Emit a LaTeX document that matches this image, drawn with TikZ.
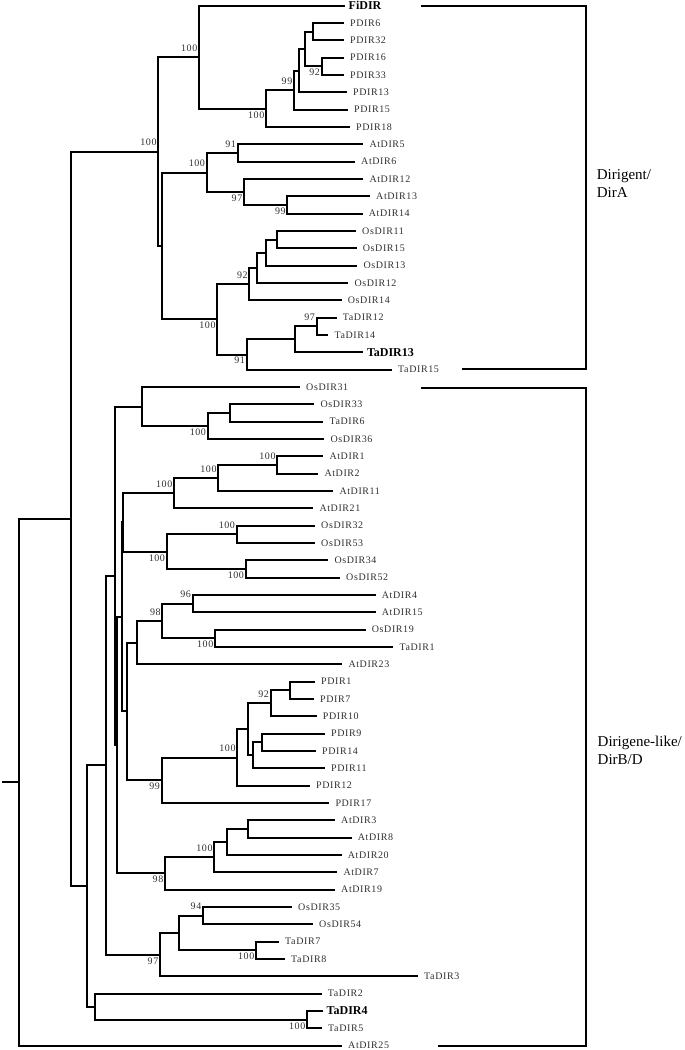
\documentclass[tikz,border=0pt]{standalone}
\usepackage{fontspec}
\setmainfont{Liberation Serif}
\newfontfamily\leaffont[LetterSpace=6]{Liberation Serif}
\usetikzlibrary{calc}
\definecolor{labelgray}{HTML}{303030}
% one fork of the tree: name, x of the fork, upper child, lower child
\newcommand\clade[4]{%
  \coordinate (#1-x) at (#2,0);
  \coordinate (#1-mid) at ($(#3.center)!.5!(#4.center)$);
  \coordinate (#1) at (#1-x |- #1-mid);
  \draw[branchline] (#1) |- (#3) (#1) |- (#4);}
\begin{document}
\begin{tikzpicture}[x=1pt,y=-1pt,
 branchline/.style={line width=2pt,draw=black},
 leaf/.style={anchor=west,inner xsep=6pt,inner ysep=1pt,text=labelgray,font=\leaffont\fontsize{10}{12}\selectfont},
 leafbold/.style={anchor=west,inner xsep=3.5pt,inner ysep=1pt,text=black,font=\bfseries\fontsize{12}{14}\selectfont},
 boot/.style={inner sep=0pt,text=labelgray,font=\leaffont\fontsize{10}{12}\selectfont},
 bootup/.style={boot,anchor=base east,xshift=-1.5pt,yshift=6pt},
 bootdown/.style={boot,anchor=north east,xshift=-1.5pt,yshift=-2.6pt},
 bracket/.style={line width=2pt,draw=black},
 cladelabel/.style={anchor=west,align=left,inner sep=0pt,font=\fontsize{15}{18}\selectfont}
]
\useasboundingbox (0,0) rectangle (685,1050);
% leaves: name / end of the branch / style
\foreach \nm/\xe/\st [count=\i from 0] in {
 FiDIR/345/leafbold, PDIR6/344/leaf, PDIR32/344/leaf, PDIR16/344/leaf, PDIR33/344/leaf,
 PDIR13/347/leaf, PDIR15/348/leaf, PDIR18/350/leaf,
 AtDIR5/363.3/leaf, AtDIR6/355/leaf, AtDIR12/363.3/leaf, AtDIR13/370/leaf, AtDIR14/362.7/leaf,
 OsDIR11/356/leaf, OsDIR15/356.7/leaf, OsDIR13/357.3/leaf, OsDIR12/348.3/leaf, OsDIR14/341.7/leaf,
 TaDIR12/336.7/leaf, TaDIR14/328.3/leaf, TaDIR13/363.3/leafbold, TaDIR15/392/leaf,
 OsDIR31/300/leaf, OsDIR33/314.3/leaf, TaDIR6/323.3/leaf, OsDIR36/324.3/leaf,
 AtDIR1/323.3/leaf, AtDIR2/318.3/leaf, AtDIR11/333.3/leaf, AtDIR21/313.3/leaf,
 OsDIR32/315/leaf, OsDIR53/315/leaf, OsDIR34/328.3/leaf, OsDIR52/340/leaf,
 AtDIR4/375.7/leaf, AtDIR15/375.7/leaf, OsDIR19/365.7/leaf, TaDIR1/393.3/leaf, AtDIR23/342.3/leaf,
 PDIR1/315/leaf, PDIR7/314/leaf, PDIR10/316.7/leaf, PDIR9/325/leaf, PDIR14/316/leaf,
 PDIR11/325/leaf, PDIR12/310/leaf, PDIR17/329.3/leaf,
 AtDIR3/335/leaf, AtDIR8/351.7/leaf, AtDIR20/341.7/leaf, AtDIR7/337.3/leaf, AtDIR19/335/leaf,
 OsDIR35/292/leaf, OsDIR54/313/leaf, TaDIR7/279/leaf, TaDIR8/285/leaf, TaDIR3/418/leaf,
 TaDIR2/321.7/leaf, TaDIR4/323/leafbold, TaDIR5/322/leaf, AtDIR25/342/leaf}
 {\node[\st] (\nm) at (\xe,{5.7+17.333*\i}) {\nm};}

% Dirigent/DirA
\clade{P5}{313.3}{PDIR6}{PDIR32}
\clade{P6}{321.7}{PDIR16}{PDIR33}
\clade{P4}{305}{P5}{P6}
\clade{P3}{299}{P4}{PDIR13}
\clade{P2}{294}{P3}{PDIR15}
\clade{P1}{266}{P2}{PDIR18}
\clade{P0}{199}{FiDIR}{P1}
\clade{AtA2}{237.7}{AtDIR5}{AtDIR6}
\clade{AtA4}{287.3}{AtDIR13}{AtDIR14}
\clade{AtA3}{244}{AtDIR12}{AtA4}
\clade{AtA1}{206.7}{AtA2}{AtA3}
\clade{OsA4}{277.3}{OsDIR11}{OsDIR15}
\clade{OsA3}{265.7}{OsA4}{OsDIR13}
\clade{OsA2}{256.7}{OsA3}{OsDIR12}
\clade{OsA1}{249.3}{OsA2}{OsDIR14}
\clade{TA3}{316.7}{TaDIR12}{TaDIR14}
\clade{TA2}{295}{TA3}{TaDIR13}
\clade{TA1}{246.7}{TA2}{TaDIR15}
\clade{OT}{217.3}{OsA1}{TA1}
\clade{N2}{161.7}{AtA1}{OT}
\clade{N1}{158.3}{P0}{N2}

% Dirigene-like/DirB/D
\clade{S3}{230.3}{OsDIR33}{TaDIR6}
\clade{S2}{207.7}{S3}{OsDIR36}
\clade{S1}{141.7}{OsDIR31}{S2}
\clade{A3}{277.3}{AtDIR1}{AtDIR2}
\clade{A2}{218.3}{A3}{AtDIR11}
\clade{A1}{174}{A2}{AtDIR21}
\clade{OsB2}{236.7}{OsDIR32}{OsDIR53}
\clade{OsB3}{245.7}{OsDIR34}{OsDIR52}
\clade{OsB1}{166.7}{OsB2}{OsB3}
\clade{Z}{123.3}{A1}{OsB1}
\clade{M3}{192.7}{AtDIR4}{AtDIR15}
\clade{M4}{215}{OsDIR19}{TaDIR1}
\clade{M2}{162.3}{M3}{M4}
\clade{M1}{136.7}{M2}{AtDIR23}
\clade{Pd5}{290}{PDIR1}{PDIR7}
\clade{Pd4}{270.7}{Pd5}{PDIR10}
\clade{Pd7}{261.7}{PDIR9}{PDIR14}
\clade{Pd6}{252.7}{Pd7}{PDIR11}
\clade{Pd3}{248.3}{Pd4}{Pd6}
\clade{Pd2}{237.3}{Pd3}{PDIR12}
\clade{Pd1}{161.7}{Pd2}{PDIR17}
\clade{X}{126.7}{M1}{Pd1}
\clade{Y}{121.7}{Z}{X}
\clade{Q4}{248.3}{AtDIR3}{AtDIR8}
\clade{Q3}{227.3}{Q4}{AtDIR20}
\clade{Q2}{214.3}{Q3}{AtDIR7}
\clade{Q1}{165}{Q2}{AtDIR19}
\clade{U}{116.7}{Y}{Q1}
\clade{V}{115}{S1}{U}
\clade{E3}{203}{OsDIR35}{OsDIR54}
\clade{E4}{256}{TaDIR7}{TaDIR8}
\clade{E2}{179}{E3}{E4}
\clade{E1}{160}{E2}{TaDIR3}
\clade{R3}{106}{V}{E1}
\clade{T2}{307}{TaDIR4}{TaDIR5}
\clade{T1}{95}{TaDIR2}{T2}
\clade{R2}{87}{R3}{T1}
\clade{R1}{71}{N1}{R2}
\clade{root}{19}{R1}{AtDIR25}
\coordinate (stub) at (1.5,0 |- root);
\draw[branchline] (stub) -- (root);

% bootstrap values
\node[bootup] (N1-bs) at (N1) {100};
\node[bootup] (P0-bs) at (P0) {100};
\node[bootdown] (P1-bs) at (P1) {100};
\node[bootup] (P2-bs) at (P2) {99};
\node[bootdown] (P6-bs) at (P6) {92};
\node[bootup] (AtA1-bs) at (AtA1) {100};
\node[bootup] (AtA2-bs) at (AtA2) {91};
\node[bootdown] (AtA3-bs) at (AtA3) {97};
\node[bootdown] (AtA4-bs) at (AtA4) {99};
\node[bootup] (OsA1-bs) at (OsA1) {92};
\node[bootdown] (OT-bs) at (OT) {100};
\node[bootup] (TA3-bs) at (TA3) {97};
\node[bootdown] (TA1-bs) at (TA1) {91};
\node[bootdown] (S2-bs) at (S2) {100};
\node[bootup] (A3-bs) at (A3) {100};
\node[bootup] (A2-bs) at (A2) {100};
\node[bootup] (A1-bs) at (A1) {100};
\node[bootup] (OsB2-bs) at (OsB2) {100};
\node[bootdown] (OsB1-bs) at (OsB1) {100};
\node[bootdown] (OsB3-bs) at (OsB3) {100};
\node[bootup] (M3-bs) at (M3) {96};
\node[bootup] (M2-bs) at (M2) {98};
\node[bootdown] (M4-bs) at (M4) {100};
\node[bootup] (Pd4-bs) at (Pd4) {92};
\node[bootup] (Pd2-bs) at (Pd2) {100};
\node[bootdown] (Pd1-bs) at (Pd1) {99};
\node[bootup] (Q2-bs) at (Q2) {100};
\node[bootdown] (Q1-bs) at (Q1) {98};
\node[bootup] (E3-bs) at (E3) {94};
\node[bootdown] (E4-bs) at (E4) {100};
\node[bootdown] (E1-bs) at (E1) {97};
\node[bootdown] (T2-bs) at (T2) {100};

% clade brackets
\coordinate (dirA-top) at (421,5.7);
\coordinate (dirA-side) at (585.7,369);
\coordinate (dirA-end) at (462,369);
\draw[bracket] (dirA-top) -| (dirA-side) -- (dirA-end);
\node[cladelabel] (dirA-label) at (596.7,184) {Dirigent/\\DirA};
\coordinate (dirB-top) at (421,388);
\coordinate (dirB-side) at (585.7,1045.7);
\coordinate (dirB-end) at (438,1045.7);
\draw[bracket] (dirB-top) -| (dirB-side) -- (dirB-end);
\node[cladelabel] (dirB-label) at (597.5,750) {Dirigene-like/\\DirB/D};
\end{tikzpicture}
\end{document}
